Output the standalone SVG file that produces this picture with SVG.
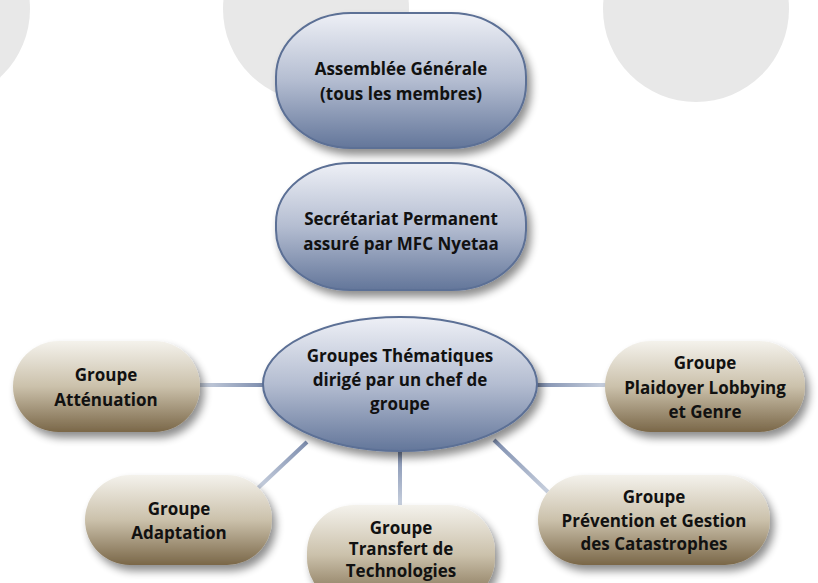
<svg xmlns="http://www.w3.org/2000/svg" width="818" height="583" viewBox="0 0 818 583">
<defs>
<linearGradient id="gBlue" x1="0" y1="0" x2="0" y2="1">
<stop offset="0" stop-color="#eef0f6"/>
<stop offset="0.5" stop-color="#b4bdd1"/>
<stop offset="1" stop-color="#63769a"/>
</linearGradient>
<linearGradient id="gTan" x1="0" y1="0" x2="0" y2="1">
<stop offset="0" stop-color="#f4f2ec"/>
<stop offset="0.5" stop-color="#cbc1ab"/>
<stop offset="1" stop-color="#7a6748"/>
</linearGradient>
<linearGradient id="c1" gradientUnits="userSpaceOnUse" x1="200" y1="0" x2="264" y2="0">
<stop offset="0" stop-color="#c8d0de"/><stop offset="1" stop-color="#7d8dae"/>
</linearGradient>
<linearGradient id="c2" gradientUnits="userSpaceOnUse" x1="536" y1="0" x2="606" y2="0">
<stop offset="0" stop-color="#7d8dae"/><stop offset="1" stop-color="#c8d0de"/>
</linearGradient>
<linearGradient id="c3" gradientUnits="userSpaceOnUse" x1="307" y1="442" x2="258" y2="488">
<stop offset="0" stop-color="#7d8dae"/><stop offset="1" stop-color="#c8d0de"/>
</linearGradient>
<linearGradient id="c4" gradientUnits="userSpaceOnUse" x1="0" y1="450" x2="0" y2="506">
<stop offset="0" stop-color="#7d8dae"/><stop offset="1" stop-color="#c8d0de"/>
</linearGradient>
<linearGradient id="c5" gradientUnits="userSpaceOnUse" x1="494" y1="440" x2="548" y2="492">
<stop offset="0" stop-color="#7d8dae"/><stop offset="1" stop-color="#c8d0de"/>
</linearGradient>
<filter id="sh" x="-20%" y="-20%" width="150%" height="160%">
<feGaussianBlur in="SourceAlpha" stdDeviation="4"/>
<feOffset dx="4" dy="6" result="b"/>
<feComponentTransfer><feFuncA type="linear" slope="0.45"/></feComponentTransfer>
<feMerge><feMergeNode/><feMergeNode in="SourceGraphic"/></feMerge>
</filter>
</defs>
<style>
.bg{fill:#e8e8e8}
.blue{fill:url(#gBlue);stroke:#5b6f95;stroke-width:2;filter:url(#sh)}
.tan{fill:url(#gTan);filter:url(#sh)}
.conn{stroke-width:4;fill:none}
text{font-family:"Open Sans","Noto Sans",sans-serif;font-weight:bold;font-size:17px;fill:#111;text-anchor:middle}
</style>
<rect width="818" height="583" fill="#ffffff"/>
<g id="background">
<circle class="bg" cx="-63" cy="9" r="93"/>
<circle class="bg" cx="316" cy="9" r="93"/>
<circle class="bg" cx="696" cy="9" r="93"/>
</g>
<g id="connectors">
<line class="conn" stroke="url(#c1)" x1="200" y1="385" x2="264" y2="385"/>
<line class="conn" stroke="url(#c2)" x1="536" y1="385" x2="606" y2="385"/>
<line class="conn" stroke="url(#c3)" x1="258" y1="488" x2="307" y2="442"/>
<line class="conn" stroke="url(#c4)" x1="400" y1="450" x2="400" y2="506"/>
<line class="conn" stroke="url(#c5)" x1="494" y1="440" x2="548" y2="492"/>
</g>
<g id="assemblee">
<rect class="blue" x="276" y="13" width="250" height="135" rx="75" ry="64"/>
<text x="401" y="75">Assemblée Générale</text>
<text x="401" y="100">(tous les membres)</text>
</g>
<g id="secretariat">
<rect class="blue" x="276" y="163" width="250" height="127" rx="75" ry="60"/>
<text x="401" y="225">Secrétariat Permanent</text>
<text x="401" y="250">assuré par MFC Nyetaa</text>
</g>
<g id="groupes">
<ellipse class="blue" cx="400" cy="384" rx="137" ry="67"/>
<text x="400" y="362">Groupes Thématiques</text>
<text x="400" y="386">dirigé par un chef de</text>
<text x="400" y="410">groupe</text>
</g>
<g id="attenuation">
<rect class="tan" x="13" y="341" width="187" height="91" rx="45.5"/>
<text x="106" y="381">Groupe</text>
<text x="106" y="406">Atténuation</text>
</g>
<g id="plaidoyer">
<rect class="tan" x="605" y="341" width="200" height="91" rx="45.5"/>
<text x="705" y="369">Groupe</text>
<text x="705" y="394">Plaidoyer Lobbying</text>
<text x="705" y="418">et Genre</text>
</g>
<g id="adaptation">
<rect class="tan" x="85" y="475" width="187" height="90" rx="45"/>
<text x="179" y="515">Groupe</text>
<text x="179" y="539">Adaptation</text>
</g>
<g id="transfert">
<rect class="tan" x="307" y="505" width="188" height="100" rx="47"/>
<text x="401" y="534">Groupe</text>
<text x="401" y="555">Transfert de</text>
<text x="401" y="577">Technologies</text>
</g>
<g id="prevention">
<rect class="tan" x="538" y="475" width="232" height="90" rx="45"/>
<text x="654" y="503">Groupe</text>
<text x="654" y="527">Prévention et Gestion</text>
<text x="654" y="550">des Catastrophes</text>
</g>
</svg>
